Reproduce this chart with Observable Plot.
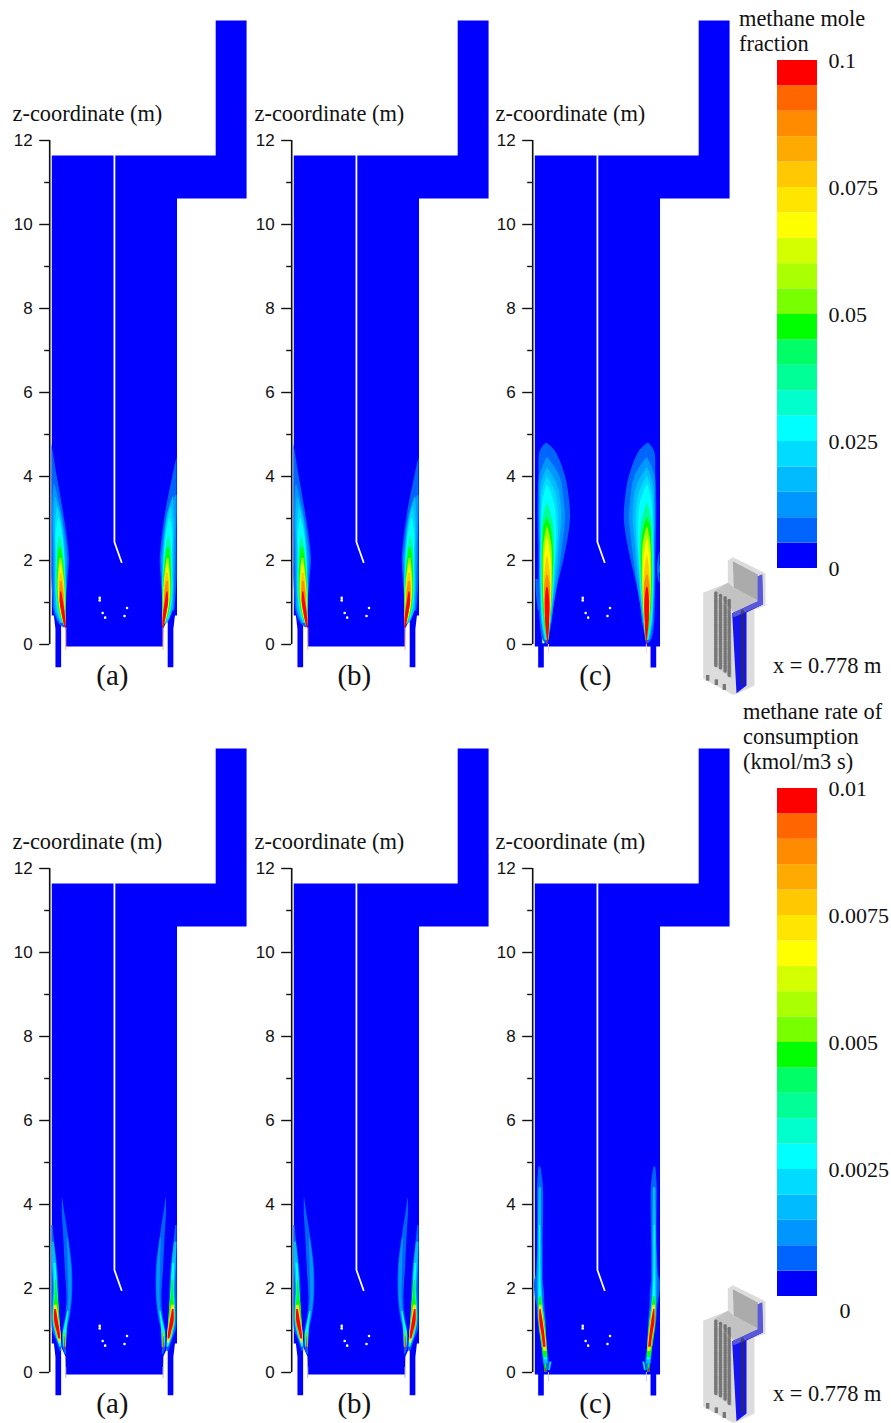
<!DOCTYPE html>
<html><head><meta charset="utf-8">
<script src="https://cdn.jsdelivr.net/npm/d3@7"></script>
<script src="https://cdn.jsdelivr.net/npm/@observablehq/plot@0.6"></script>
<style>
html,body{margin:0;padding:0;background:#fff}
#page{position:relative;width:891px;height:1423px;overflow:hidden}
#page svg{position:absolute;background:transparent;overflow:visible;max-width:none}
.t{position:absolute;font-family:"Liberation Serif",serif;font-size:22.4px;line-height:25px;color:#111;white-space:nowrap}
</style></head><body><div id="page"></div>
<script>
// ---- colour bands, bottom to top
const bandColors=["#0000ff","#0064ff","#0096ff","#00bbff","#00dcff","#00ffff","#00ffcc","#00ff96","#00ff66","#00ff00","#78ff00","#aaff00","#d4ff00","#ffff00","#ffe600","#ffc800","#ffaa00","#ff8c00","#ff6600","#ff0000"];
const moleTicks=[0,0.025,0.05,0.075,0.1];
const rateTicks=[0.0025,0.005,0.0075,0.01];
const zMajor=[0,2,4,6,8,10,12];
const zMinor=[1,3,5,7,9,11];
const panelNames=["(a)","(b)","(c)"];

// ---- geometry in metres: [x, z]
const domainAB=[[0,11.64],[3.9,11.64],[3.9,14.857],[4.635,14.857],[4.635,10.62],[2.98,10.62],[2.98,.69],[2.93,.69],[2.893,.37],[2.893,-.54],[2.758,-.54],[2.758,.36],[2.76,.62],[2.655,.38],[2.647,-.05],[.333,-.05],[.325,.38],[.22,.62],[.222,.36],[.222,-.54],[.087,-.54],[.087,.37],[.05,.69],[0,.69]];
const domainC=[[0,11.64],[3.9,11.64],[3.9,14.857],[4.635,14.857],[4.635,10.62],[2.98,10.62],[2.98,-.05],[2.889,-.05],[2.889,-.55],[2.754,-.55],[2.754,-.05],[.214,-.05],[.214,-.55],[.08,-.55],[.08,-.05],[0,-.05]];
const baffle=[[1.49,11.64],[1.49,2.44],[1.66,1.96]];
const holes=[[1.14,1.11],[1.14,1.05],[1.21,.75],[1.27,.64],[1.79,.87],[1.73,.68]];
const slitAB=[.333,.4,-.14], slitC=[.325,0,-.22], slitRateAB=[.333,.12,-.14];

// ---- contour bands: [band, [z, xLeft, xRight], ...]
const moleAB=[
[1,[4.8,0,0],[4,0,.13],[3.2,0,.27],[2.4,0,.39],[2,0,.42],[1.6,0,.39],[1.2,.02,.36],[.8,.05,.33],[.5,.17,.33],[.4,.28,.33]],
[2,[3.8,.05,.08],[3.2,.02,.22],[2.4,.03,.35],[2,.04,.38],[1.6,.05,.36],[1.2,.06,.35],[.8,.08,.33],[.5,.2,.33]],
[3,[3.5,.08,.1],[3,.05,.24],[2.4,.06,.31],[2,.07,.34],[1.6,.07,.34],[1.2,.08,.34],[.8,.1,.33],[.5,.22,.33]],
[4,[3.25,.13,.15],[2.8,.08,.25],[2.4,.09,.29],[2,.09,.32],[1.6,.09,.33],[1.2,.1,.34],[.8,.14,.33],[.5,.24,.33]],
[5,[3,.16,.18],[2.6,.1,.26],[2.2,.11,.3],[1.8,.11,.32],[1.4,.1,.34],[1,.12,.34],[.6,.2,.33]],
[7,[2.55,.17,.21],[2.2,.13,.27],[1.8,.13,.31],[1.4,.12,.33],[1,.14,.34],[.6,.22,.33]],
[9,[2.3,.18,.23],[2,.15,.27],[1.6,.13,.31],[1.2,.14,.33],[.8,.18,.33],[.55,.26,.335]],
[11,[2.05,.19,.24],[1.7,.16,.28],[1.4,.15,.31],[1.1,.16,.32],[.8,.2,.33],[.5,.28,.335]],
[13,[1.9,.2,.24],[1.5,.17,.29],[1.2,.17,.31],[1,.18,.31],[.7,.23,.33],[.45,.3,.335]],
[15,[1.7,.2,.25],[1.4,.18,.29],[1.1,.19,.3],[.8,.23,.32],[.45,.3,.335]],
[17,[1.5,.2,.25],[1.2,.19,.29],[1,.2,.3],[.7,.25,.33],[.42,.31,.335]],
[19,[1.25,.21,.24],[1,.2,.28],[.8,.23,.31],[.55,.28,.335],[.4,.32,.335]]
];
const moleABright=[
[1,[4.45,0,0],[4,0,.1],[3.2,0,.26],[2.4,0,.37],[2,0,.4],[1.6,0,.38],[1.2,.02,.35],[.8,.05,.32]],
[2,[3.55,.0,.03],[3.2,.0,.2],[2.4,.02,.33],[2,.03,.37],[1.6,.05,.35],[1.2,.06,.33],[.8,.08,.32]]
];
const moleC=[
[1,[4.79,.27,.29],[4.6,.13,.49],[4,.1,.73],[3.4,.08,.83],[3,.08,.85],[2.5,.09,.79],[2,.1,.69],[1.5,.1,.57],[1,.11,.47],[.5,.13,.41],[.1,.2,.34],[0,.3,.32]],
[2,[4.45,.29,.31],[4,.12,.6],[3.4,.11,.7],[3,.11,.73],[2.5,.12,.68],[2,.12,.62],[1.5,.12,.55],[1,.14,.47],[.5,.16,.4]],
[3,[4.2,.29,.31],[3.8,.15,.54],[3.4,.13,.62],[3,.12,.64],[2.5,.13,.6],[2,.13,.56],[1.5,.13,.5],[1,.15,.44],[.5,.17,.38],[.1,.24,.33]],
[4,[4,.29,.31],[3.6,.17,.5],[3.2,.15,.56],[2.8,.14,.57],[2.3,.14,.54],[1.8,.14,.5],[1.2,.15,.45],[.6,.18,.39],[.1,.26,.33]],
[5,[3.8,.29,.31],[3.4,.19,.46],[3,.17,.51],[2.5,.16,.52],[2,.15,.49],[1.2,.16,.44],[.6,.19,.38],[.1,.27,.33]],
[7,[3.35,.29,.31],[3,.2,.42],[2.6,.18,.46],[2.2,.17,.47],[1.6,.17,.45],[1,.18,.41],[.5,.22,.37],[.1,.28,.33]],
[9,[3,.29,.31],[2.8,.22,.38],[2.3,.19,.44],[1.8,.18,.44],[1.3,.19,.42],[.8,.21,.39],[.3,.27,.35]],
[11,[2.8,.29,.31],[2.4,.22,.4],[1.9,.2,.42],[1.3,.21,.41],[.8,.23,.38],[.3,.28,.34]],
[13,[2.5,.29,.31],[2.1,.23,.38],[1.6,.22,.4],[1,.23,.39],[.4,.28,.35],[.1,.3,.33]],
[15,[2.1,.29,.31],[1.7,.24,.37],[1.3,.23,.38],[.8,.24,.37],[.3,.28,.34]],
[17,[1.65,.28,.32],[1.4,.24,.37],[.8,.25,.36],[.3,.28,.34],[.05,.31,.32]],
[19,[1.35,.28,.32],[1,.25,.36],[.5,.26,.35],[.1,.3,.33],[0,.31,.32]]
];
const moleClobeLeft=[[1,[1.55,.03,.1],[1.2,.04,.12],[.8,.08,.14]],[4,[.2,.18,.22],[.02,.18,.24]],[13,[.12,.2,.23],[.02,.2,.24]]];
const moleClobeRight=[[1,[2.2,0,.01],[1.9,0,.06],[1.6,0,.05],[1.45,0,.01]],[3,[1.9,0,.01],[1.7,0,.02]]];
const rateAB=[
[1,[4.15,.25,.26],[3.8,.25,.31],[3.3,.28,.39],[2.5,.32,.49],[1.75,.36,.49],[1.33,.33,.44],[1,.27,.37],[.6,.27,.35],[.42,.32,.35]],
[1,[3.5,0,.03],[3,0,.08],[2.5,0,.14],[2,0,.17],[1.5,0,.17],[1,.02,.18],[.8,.1,.22],[.5,.2,.24]],
[2,[3.2,.37,.39],[2.5,.39,.47],[1.75,.4,.47],[1.33,.36,.42],[1,.28,.36],[.7,.28,.35]],
[3,[3.1,0,.06],[2.5,.02,.12],[2,.05,.14],[1.7,.04,.15],[1.2,.03,.19],[.8,.12,.23]],
[5,[1.45,.38,.41],[1.1,.31,.37],[.9,.27,.36],[.6,.29,.35]],
[5,[2.6,.05,.1],[2,.07,.14],[1.6,.05,.17],[1.2,.04,.2],[.8,.13,.23],[.6,.2,.24]],
[9,[2.2,.09,.12],[1.8,.08,.14],[1.6,.06,.17],[1.2,.05,.19],[.8,.15,.23]],
[9,[.95,.29,.33],[.6,.3,.34]],
[14,[1.6,.06,.13],[1.2,.06,.18],[.9,.13,.22],[.7,.18,.23]],
[15,[.95,.29,.31],[.6,.31,.33]],
[19,[1.5,.07,.11],[1.2,.07,.16],[.95,.13,.2],[.8,.17,.21]],
[19,[.85,.3,.31],[.55,.31,.33]]
];
const rateC=[
[1,[4.9,.1,.14],[4.5,.07,.2],[3,.07,.2],[2.3,.03,.2],[2.2,0,.2],[1.9,0,.23],[1.6,.05,.24],[1.2,.08,.27],[.6,.17,.3],[.3,.2,.34],[.05,.25,.33]],
[3,[4.4,.1,.16],[3,.08,.17],[2,.07,.18],[1.6,.08,.2],[1.2,.1,.25],[.6,.18,.29],[.2,.22,.32]],
[5,[3.5,.11,.14],[2.5,.11,.14],[1.9,.1,.16],[1.6,.1,.19],[1.2,.11,.24],[.6,.2,.28],[.3,.24,.3]],
[4,[.25,.36,.41],[.05,.33,.37]],
[9,[1.8,.11,.16],[1.5,.1,.19],[1.2,.1,.24],[.7,.16,.29],[.35,.22,.3]],
[9,[.2,.24,.28],[0,.24,.29]],
[14,[1.6,.11,.17],[1.2,.11,.22],[.8,.17,.27],[.5,.22,.29]],
[19,[1.5,.12,.15],[1.2,.12,.2],[.9,.17,.24],[.6,.21,.27]],
[19,[.1,.25,.27],[0,.25,.27]]
];

// ---- inset cut-away sketch: polygons [fill, points...]
const insetPolys=[
["#dcdcdc",[8,127],[82,97],[82,30],[97,20],[195,68],[195,165],[162,178],[162,405],[105,432],[95,432],[8,385]],
["#ababab",[97,32],[172,72],[172,150],[100,112]],
["#c8c8c8",[40,122],[92,190],[95,385],[40,345]],
["#c2c2c2",[82,97],[100,112],[172,150],[100,185],[40,122]],
["#1414ec",[172,78],[185,72],[187,162],[138,186],[138,405],[108,428],[95,188],[172,152]],
["#5a5ad8",[172,78],[185,72],[187,162],[100,200],[95,188],[172,152]]
];
const insetTubes=[[[46,128],[46,345]],[[60,135],[60,352]],[[74,142],[74,365]],[[86,150],[86,375]],[[126,182],[126,400]]];
const insetFeet=[[18,375,28,392],[44,388,54,405],[68,402,78,420]];

const xDom=[-.05,4.657], zDom=[-.714,14.857];
const page=document.getElementById("page");
const mid=1.49;
const bandMarks=(table,mirror)=>table.map(([band,...pts])=>Plot.area(pts,{
  x1:d=>mirror?2*mid-d[2]:d[1], x2:d=>mirror?2*mid-d[1]:d[2], y1:d=>d[0],
  fill:bandColors[band], curve:"catmull-rom", imageFilter:"blur(0.45px)"}));

function panel(idx,top,domain,slit,slitColor,leftTables,rightTables){
  const p=Plot.plot({
    width:247,height:700,marginLeft:49.2,marginRight:0,marginTop:20,marginBottom:26,
    x:{domain:xDom,axis:null},y:{domain:zDom,axis:null},
    style:{background:"transparent",fontFamily:"Liberation Sans",fontSize:"17px",color:"#111",overflow:"visible"},
    marks:[
      Plot.line(domain,{x:d=>d[0],y:d=>d[1],fill:"#0000ff",stroke:"none"}),
      Plot.ruleX([slit[0],2*mid-slit[0]],{y1:slit[1],y2:slit[2],stroke:slitColor,strokeWidth:1}),
      ...leftTables.flatMap(t=>bandMarks(t,false)),
      ...rightTables.flatMap(t=>bandMarks(t,true)),
      Plot.line(baffle,{x:d=>d[0],y:d=>d[1],stroke:"#fff",strokeWidth:1.8}),
      Plot.dot(holes,{x:d=>d[0],y:d=>d[1],r:1.3,fill:"#fff",stroke:"none"}),
      Plot.ruleX([xDom[0]],{y1:0,y2:12,stroke:"#111",strokeWidth:1.6}),
      Plot.axisY({ticks:zMajor,tickSize:10,tickPadding:7,label:null,tickFormat:String,stroke:"#111",strokeWidth:1.4,fontSize:17}),
      Plot.axisY({ticks:zMinor,tickSize:5,tickFormat:null,text:null,label:null,stroke:"#111",strokeWidth:1.4}),
      Plot.text(["z-coordinate (m)"],{x:-.935,y:12.63,textAnchor:"start",fontFamily:"Liberation Serif",fontSize:22.4,fill:"#111"}),
      Plot.text([panelNames[idx]],{x:1.44,y:-.74,fontFamily:"Liberation Serif",fontSize:29,fill:"#111"})
    ]});
  p.style.left=(idx*241.5)+"px"; p.style.top=top+"px";
  page.appendChild(p);
}
for(const i of [0,1]) panel(i,0,domainAB,slitAB,"#ffaaaa",[moleAB],[moleABright,moleAB.slice(2)]);
panel(2,0,domainC,slitC,"#ffd4d4",[moleClobeLeft,moleC],[moleC,moleClobeRight]);
for(const i of [0,1]) panel(i,728,domainAB,slitRateAB,"#b0b0ff",[rateAB],[rateAB]);
panel(2,728,domainC,slitC,"#c8c8ff",[rateC],[rateC]);

function colorbar(top,maxV,ticks,fmt,zeroBelow){
  const bands=bandColors.map((c,i)=>({i,c}));
  const step=maxV/bandColors.length;
  const marks=[
    Plot.rectY(bands,{x1:0,x2:1,y1:d=>d.i*step,y2:d=>(d.i+1)*step,fill:d=>d.c}),
    Plot.axisY({anchor:"right",ticks,tickSize:0,tickPadding:11,label:null,tickFormat:fmt,fontSize:22,fill:"#111"})
  ];
  if(zeroBelow) marks.push(Plot.axisY({anchor:"right",ticks:[0],tickSize:0,tickPadding:22,dy:14,label:null,tickFormat:()=>"0",fontSize:22,fill:"#111"}));
  const p=Plot.plot({
    width:161,height:600,marginLeft:47,marginRight:74,marginTop:60,marginBottom:32,
    x:{domain:[0,1],axis:null},y:{domain:[0,maxV],axis:null},color:{type:"identity"},
    style:{background:"transparent",fontFamily:"Liberation Serif",overflow:"visible"},marks});
  p.style.left="730px"; p.style.top=top+"px"; page.appendChild(p);
}
colorbar(0,.1,moleTicks,String,false);
colorbar(728,.01,rateTicks,String,true);

function inset(top){
  const p=Plot.plot({
    width:75,height:150,margin:0,
    x:{domain:[0,225],axis:null},y:{domain:[450,0],axis:null},
    style:{background:"transparent",overflow:"visible"},
    marks:[
      ...insetPolys.map(([c,...pts])=>Plot.line(pts,{x:d=>d[0],y:d=>d[1],fill:c,stroke:"none",curve:"linear-closed",imageFilter:"blur(0.4px)"})),
      ...insetTubes.map(pts=>Plot.line(pts,{x:d=>d[0],y:d=>d[1],stroke:"#333",strokeWidth:3.5,strokeDasharray:"1.2 1.2",strokeOpacity:.55})),
      Plot.rect(insetFeet,{x1:d=>d[0],y1:d=>d[1],x2:d=>d[2],y2:d=>d[3],fill:"#777",inset:0})
    ]});
  p.style.left="700px"; p.style.top=top+"px"; page.appendChild(p);
}
inset(550); inset(1278);

function label(x,y,lines){
  const d=document.createElement("div"); d.className="t";
  d.style.left=x+"px"; d.style.top=y+"px"; d.innerHTML=lines.join("<br>");
  page.appendChild(d);
}
label(739,6,["methane mole","fraction"]);
label(743,699,["methane rate of","consumption","(kmol/m3 s)"]);
label(773,653,["x = 0.778 m"]);
label(773,1381,["x = 0.778 m"]);
</script></body></html>
